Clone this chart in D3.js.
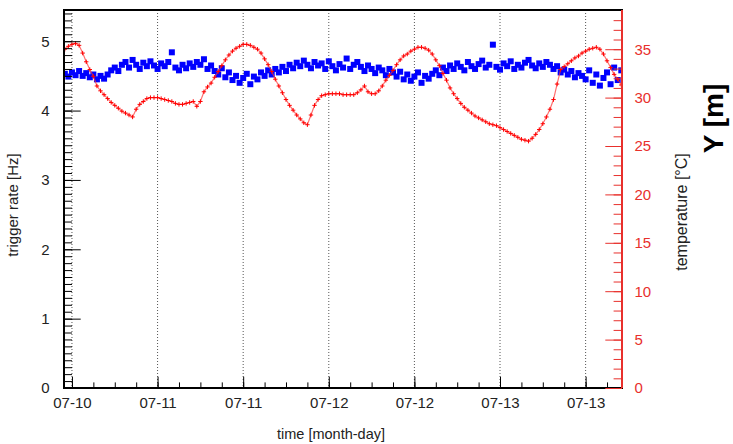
<!DOCTYPE html>
<html>
<head>
<meta charset="utf-8">
<script src="https://cdn.jsdelivr.net/npm/d3@7"></script>
<style>
	body { margin: 0; background: #fff; }
	svg { font-family: "Liberation Sans", Arial, sans-serif; }
</style>
</head>
<body>
<svg id="chart" width="733" height="444"></svg>
<script>

// logger samples, one every 30 minutes from 07-10 11:00
var startTime = new Date(2014, 6, 10, 11, 0);
var stepMin = 30;

var rate = [
	4.53, 4.49, 4.55, 4.51, 4.57, 4.50, 4.54, 4.48, 4.52, 4.45, 4.50, 4.46,
	4.52, 4.58, 4.62, 4.57, 4.66, 4.70, 4.62, 4.73, 4.66, 4.60, 4.69, 4.64,
	4.71, 4.65, 4.60, 4.68, 4.64, 4.70, 4.84, 4.62, 4.58, 4.66, 4.61, 4.68,
	4.63, 4.70, 4.66, 4.74, 4.60, 4.65, 4.57, 4.52, 4.61, 4.48, 4.55, 4.44,
	4.50, 4.40, 4.47, 4.53, 4.38, 4.49, 4.45, 4.55, 4.50, 4.58, 4.52, 4.60,
	4.55, 4.63, 4.57, 4.66, 4.61, 4.69, 4.64, 4.72, 4.66, 4.61, 4.70, 4.65,
	4.68, 4.60, 4.71, 4.64, 4.58, 4.67, 4.62, 4.75, 4.60, 4.66, 4.70, 4.63,
	4.57, 4.65, 4.60, 4.54, 4.62, 4.58, 4.51, 4.60, 4.55, 4.49, 4.56, 4.45,
	4.52, 4.43, 4.49, 4.55, 4.40, 4.50, 4.46, 4.53, 4.58, 4.51, 4.62, 4.57,
	4.65, 4.60, 4.68, 4.63, 4.58, 4.70, 4.64, 4.60, 4.67, 4.72, 4.62, 4.66,
	4.95, 4.63, 4.59, 4.68, 4.64, 4.71, 4.60, 4.66, 4.62, 4.69, 4.73, 4.65,
	4.61, 4.68, 4.63, 4.70, 4.66, 4.60, 4.64, 4.55, 4.59, 4.52, 4.57, 4.48,
	4.54, 4.50, 4.45, 4.58, 4.40, 4.52, 4.36, 4.47, 4.55, 4.38, 4.62, 4.44,
	4.58
];

var temperature = [
	35.0, 35.3, 35.5, 35.6, 35.4, 34.6, 33.7, 32.9, 32.2, 31.2, 30.7, 30.3,
	29.9, 29.5, 29.2, 28.9, 28.6, 28.4, 28.2, 28.0, 28.8, 29.3, 29.6, 29.9,
	30.0, 30.0, 30.0, 29.9, 29.8, 29.7, 29.6, 29.4, 29.3, 29.3, 29.4, 29.5,
	29.6, 29.1, 29.6, 30.6, 31.1, 31.5, 32.1, 32.7, 33.3, 33.9, 34.4, 34.8,
	35.1, 35.3, 35.5, 35.5, 35.4, 35.2, 35.0, 34.6, 34.0, 33.4, 32.7, 31.9,
	31.2, 30.5, 29.8, 29.2, 28.7, 28.2, 27.8, 27.4, 27.2, 28.2, 29.2, 29.8,
	30.2, 30.3, 30.4, 30.4, 30.4, 30.4, 30.3, 30.3, 30.3, 30.3, 30.5, 30.8,
	31.2, 30.6, 30.4, 30.4, 30.7, 31.2, 31.8, 32.3, 32.8, 33.4, 33.9, 34.3,
	34.5, 34.8, 35.0, 35.2, 35.2, 35.1, 34.9, 34.5, 33.9, 33.3, 32.5, 31.8,
	31.0, 30.4, 29.9, 29.4, 29.0, 28.7, 28.4, 28.1, 27.9, 27.7, 27.5, 27.3,
	27.2, 27.1, 26.9, 26.7, 26.5, 26.3, 26.1, 25.9, 25.7, 25.6, 25.5, 25.8,
	26.2, 26.7, 27.3, 28.0, 28.8, 29.8, 31.4, 32.9, 33.2, 33.5, 33.8, 34.1,
	34.3, 34.6, 34.8, 35.0, 35.1, 35.2, 35.0, 34.5, 33.8, 33.1, 32.4, 31.9,
	31.3
];

var rateTicks = [ 0, 1, 2, 3, 4, 5 ];
var tempTicks = [ 0, 5, 10, 15, 20, 25, 30, 35 ];
var timeRange = [ new Date(2014, 6, 10, 10, 53), new Date(2014, 6, 13, 17, 6) ];

var svg = d3.select("#chart");
var [ W, H ] = [ 733, 444 ];
var [ mT, mR, mB, mL ] = [ 10, 111, 56, 64 ];		// frame margins
var red = "#e8302c";

var x = d3.scaleTime().domain(timeRange).range([ mL, W-mR ]);
var y = d3.scaleLinear([ 0, 5.45 ], [ H-mB, mT ]);
var yT = d3.scaleLinear([ 0, 39.05 ], [ H-mB, mT ]);
var tm = i => d3.timeMinute.offset(startTime, i*stepMin);

svg.append("clipPath").attr("id", "frame")
	.append("rect").attr("x", mL).attr("y", mT).attr("width", W-mR-mL).attr("height", H-mB-mT);

// dotted grid on the 12h ticks
svg.append("g")
	.selectAll("line")
	.data(x.ticks(d3.timeHour.every(12)))
	.join("line")
		.attr("x1", d => x(d)).attr("x2", d => x(d))
		.attr("y1", mT).attr("y2", H-mB)
		.attr("stroke", "#555")
		.attr("stroke-dasharray", "1,2");

var plot = svg.append("g").attr("clip-path", "url(#frame)");

// trigger rate squares
plot.append("g")
	.selectAll("rect")
	.data(rate)
	.join("rect")
		.attr("x", (d,i) => x(tm(i)) - 3)
		.attr("y", d => y(d) - 3)
		.attr("width", 6).attr("height", 6)
		.attr("fill", "#00f");

// temperature: faint trace plus crosses
plot.append("path")
	.datum(temperature)
	.attr("d", d3.line().x((d,i) => x(tm(i))).y(d => yT(d)))
	.attr("fill", "none")
	.attr("stroke", "#f33")
	.attr("stroke-opacity", 0.7)
	.attr("stroke-width", 1.2);

plot.append("g")
	.selectAll("path")
	.data(temperature)
	.join("path")
		.attr("d", (d,i) => {
			var cx = x(tm(i)), cy = yT(d);
			return `M${cx-2.2},${cy}H${cx+2.2}M${cx},${cy-2.2}V${cy+2.2}`;
		})
		.attr("stroke", "#f00")
		.attr("stroke-width", 1);

// frame
svg.append("rect")
	.attr("x", mL).attr("y", mT).attr("width", W-mR-mL).attr("height", H-mB-mT)
	.attr("fill", "none").attr("stroke", "#000").attr("stroke-width", 2);

function clean(g, color)	{
	g.select(".domain").remove();
	g.selectAll("line").attr("stroke", color);
	g.selectAll("text").attr("fill", color).style("font-size", "15px");
}

// left axis
svg.append("g")
	.attr("transform", `translate(${mL},0)`)
	.call(d3.axisLeft(y).tickValues(d3.range(0, 5.41, 0.1)).tickSize(-8).tickFormat(""))
	.call(g => clean(g, "#000"));
svg.append("g")
	.attr("transform", `translate(${mL},0)`)
	.call(d3.axisLeft(y).tickValues(rateTicks).tickSizeInner(-16.7).tickSizeOuter(0).tickPadding(14.5).tickFormat(d3.format("d")))
	.call(g => clean(g, "#000"))
	.call(g => g.selectAll("text").attr("fill", "#222"));

// bottom axis
svg.append("g")
	.attr("transform", `translate(0,${H-mB})`)
	.call(d3.axisBottom(x).ticks(d3.timeHour.every(3)).tickSize(-5.6).tickFormat(""))
	.call(g => clean(g, "#000"));
svg.append("g")
	.attr("transform", `translate(0,${H-mB})`)
	.call(d3.axisBottom(x).ticks(d3.timeHour.every(12)).tickSizeInner(-11.3).tickSizeOuter(0).tickPadding(9.4).tickFormat(d3.timeFormat("%m-%d")))
	.call(g => clean(g, "#000"))
	.call(g => g.selectAll("text").attr("fill", "#222"));

// right temperature axis
svg.append("g")
	.attr("transform", `translate(${W-mR},0)`)
	.call(d3.axisRight(yT).tickValues(d3.range(0, 39, 1)).tickSize(-8.4).tickFormat(""))
	.call(g => clean(g, red));
svg.append("g")
	.attr("transform", `translate(${W-mR},0)`)
	.call(d3.axisRight(yT).tickValues(tempTicks).tickSizeInner(-16.7).tickSizeOuter(0).tickPadding(12.5))
	.call(g => clean(g, red));
svg.append("line")
	.attr("x1", W-mR).attr("x2", W-mR).attr("y1", mT).attr("y2", H-mB)
	.attr("stroke", red).attr("stroke-width", 2);

// titles
svg.append("text")
	.attr("transform", "translate(18,205) rotate(-90)")
	.attr("text-anchor", "middle")
	.style("font-size", "15px").attr("fill", "#222")
	.text("trigger rate [Hz]");

svg.append("text")
	.attr("x", 331).attr("y", 439)
	.attr("text-anchor", "middle")
	.style("font-size", "14.5px").attr("fill", "#222")
	.text("time [month-day]");

svg.append("text")
	.attr("transform", "translate(687,212) rotate(-90)")
	.attr("text-anchor", "middle")
	.style("font-size", "16px").attr("fill", "#222")
	.text("temperature [°C]");

svg.append("text")
	.attr("transform", "translate(723,118.5) rotate(-90)")
	.attr("text-anchor", "middle")
	.style("font-size", "28px").style("font-weight", "bold").attr("fill", "#000")
	.text("Y [m]");

</script>
</body>
</html>
